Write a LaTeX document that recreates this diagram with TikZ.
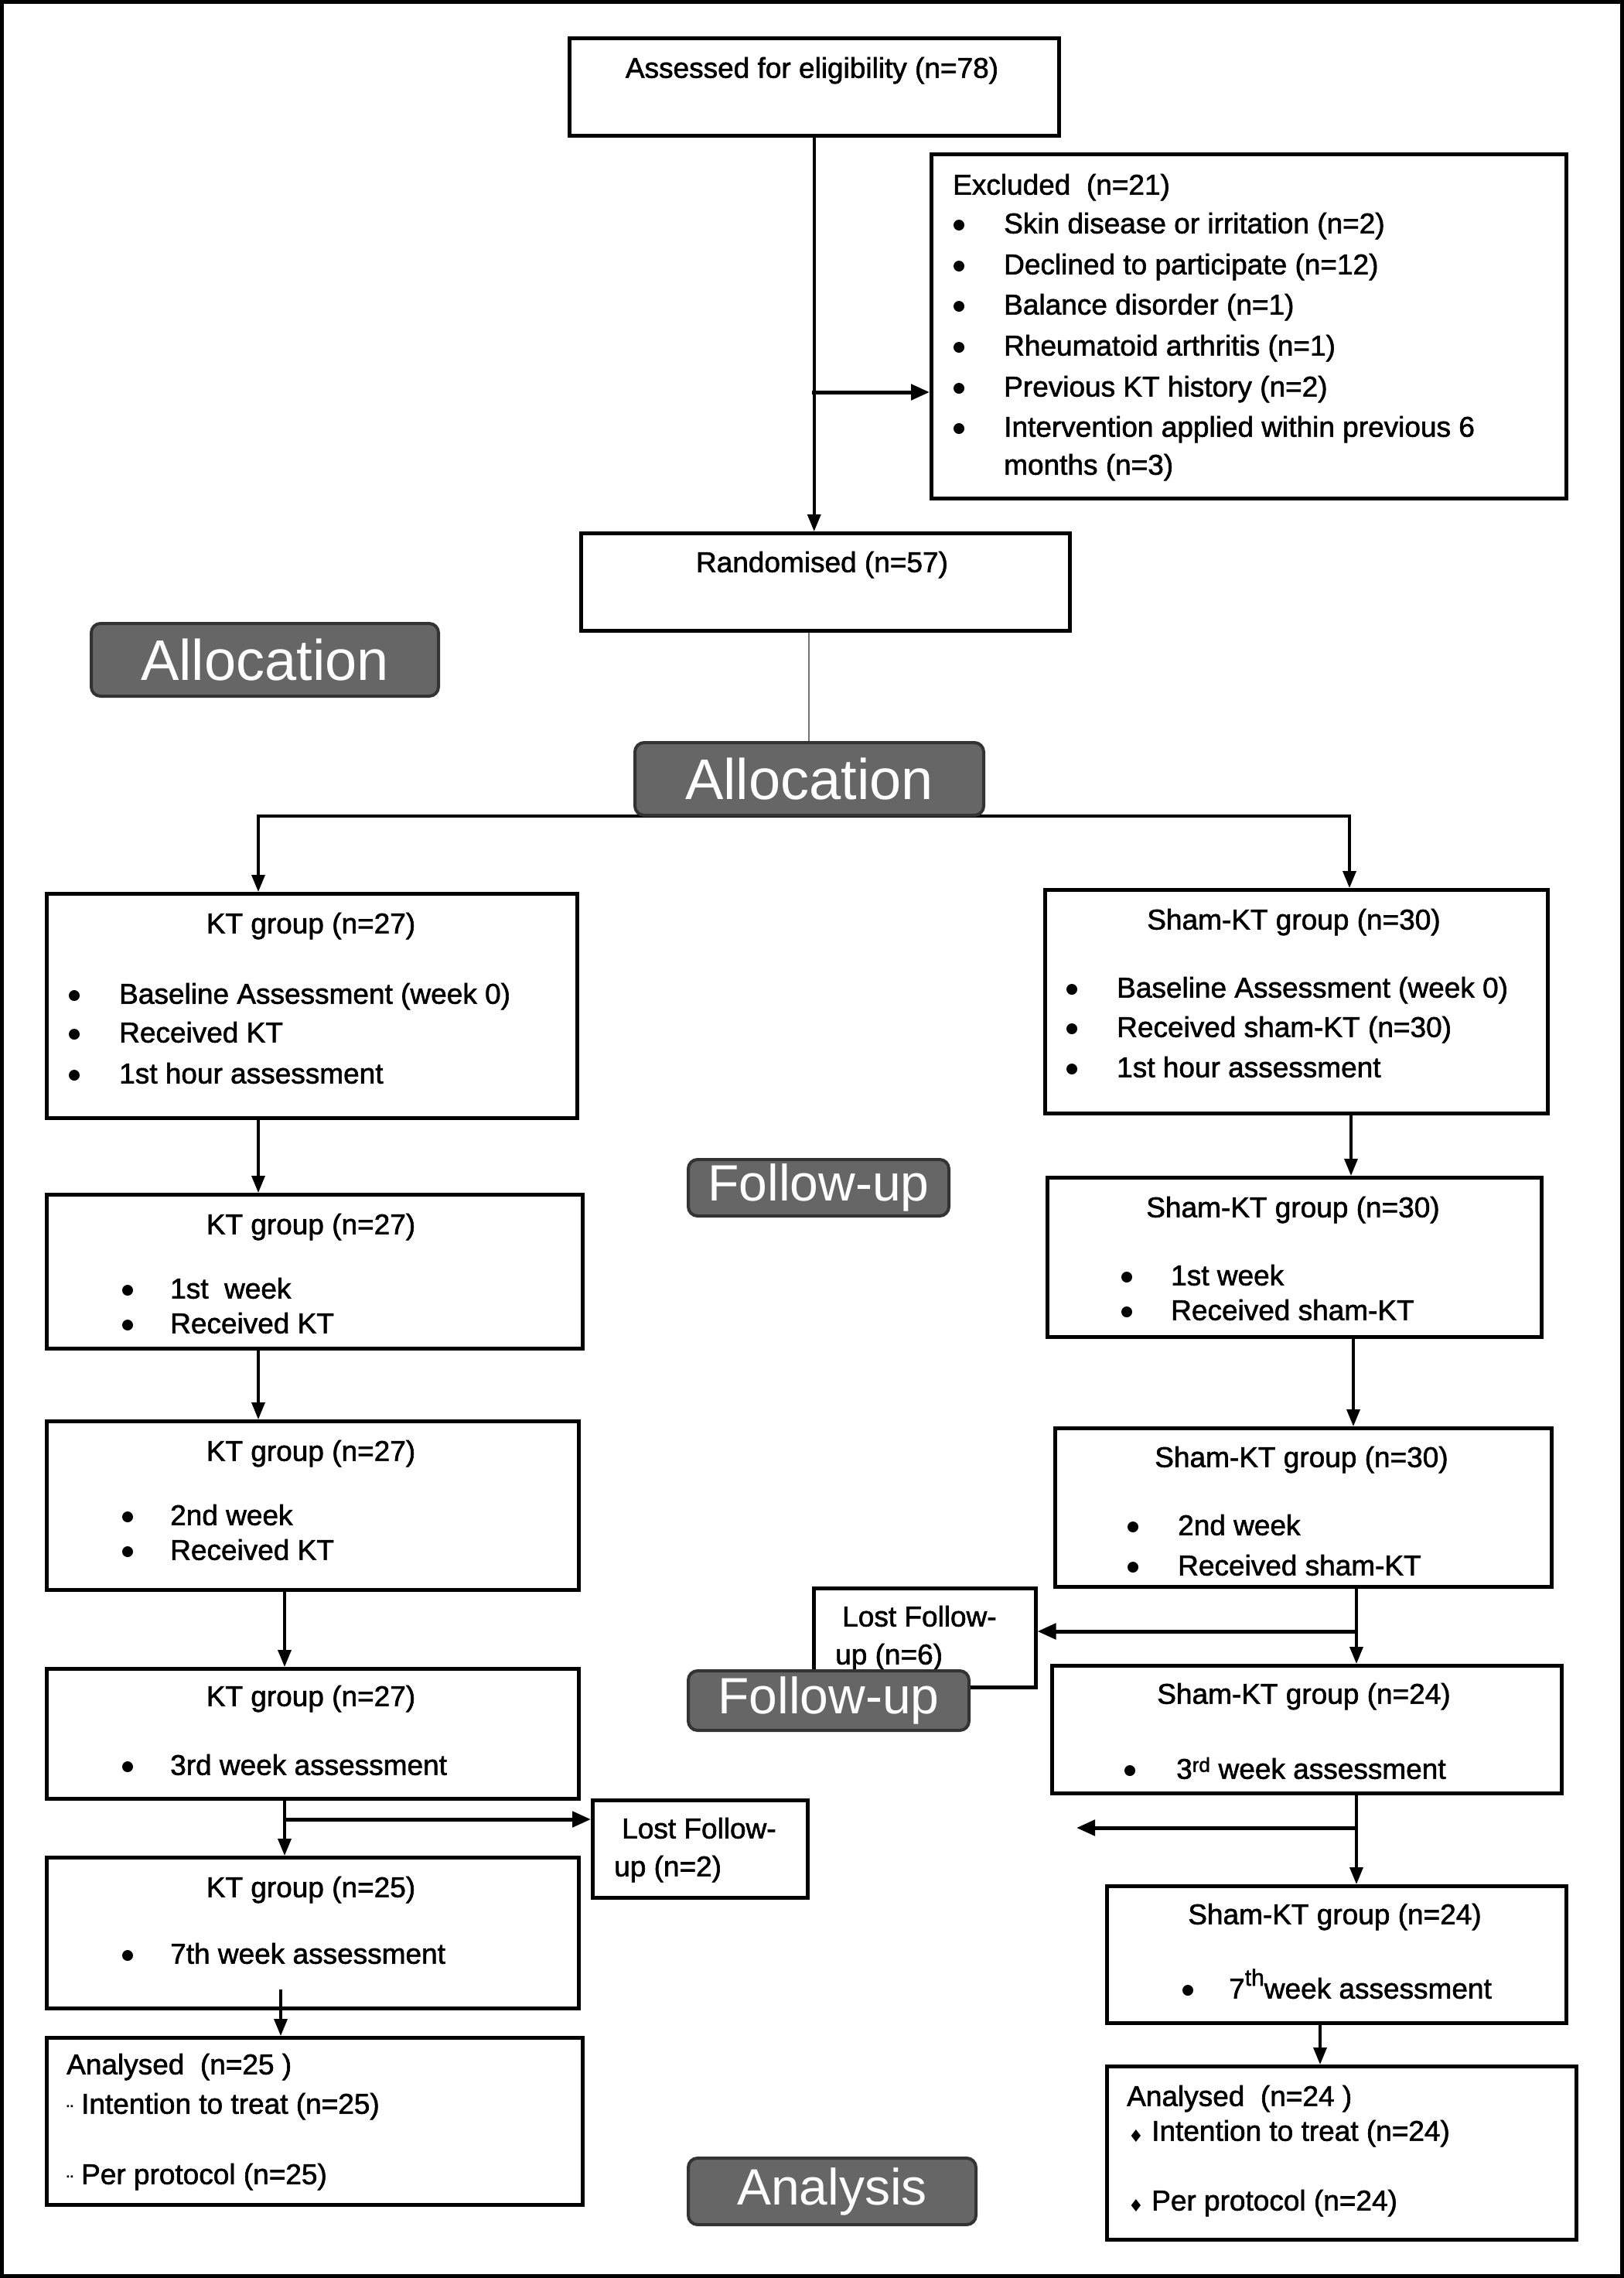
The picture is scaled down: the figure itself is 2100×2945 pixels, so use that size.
\documentclass[tikz,border=0pt]{standalone}
\usepackage{fontspec}
\setmainfont{Liberation Sans}
\newfontfamily\boxfont[FakeBold=1.6]{Liberation Sans}
\newfontfamily\symfont{DejaVu Sans}
\usetikzlibrary{arrows.meta,calc}
\newcommand\mybul[5]{%
  \node[bt] (#1b) at (#2,#4) {};
  \node[txt] (#1) at (#3,#4) {#5};}
\begin{document}
\begin{tikzpicture}[x=1pt,y=-1pt,
  box/.style={draw=black,line width=4.5pt,fill=white,inner sep=0pt,anchor=north west},
  lbl/.style={draw=black!80,line width=4pt,fill=black!60,rounded corners=12pt,text=white,inner sep=0pt,anchor=north west},
  txt/.style={inner sep=0pt,font=\boxfont\fontsize{37}{44}\selectfont,anchor=mid west,text=black,yshift=-10pt},
  ctxt/.style={txt,anchor=mid},
  bt/.style={circle,fill=black,draw=none,inner sep=0pt,minimum size=14pt,yshift=-2pt},
  arr/.style={line width=3.5pt,-{Triangle[length=22pt,width=17pt]}},
  tarr/.style={line width=5pt,-{Triangle[length=24pt,width=20pt]}}
]
\useasboundingbox (0,0) rectangle (2100,2945);
\draw[line width=5pt] (2.5,2.5) rectangle (2097.5,2942.5);

% boxes
\node[box,minimum width=633pt,minimum height=126pt] (assessed) at (734,47) {};
\node[box,minimum width=821pt,minimum height=445pt] (excl) at (1202,197) {};
\node[box,minimum width=632pt,minimum height=126pt] (rand) at (749,687) {};
\node[box,minimum width=686pt,minimum height=290pt] (kt1) at (58,1153) {};
\node[box,minimum width=650pt,minimum height=289pt] (sh1) at (1349,1148) {};
\node[box,minimum width=693pt,minimum height=199pt] (kt2) at (58,1542) {};
\node[box,minimum width=639pt,minimum height=206pt] (sh2) at (1352,1520) {};
\node[box,minimum width=688pt,minimum height=218pt] (kt3) at (58,1835) {};
\node[box,minimum width=642pt,minimum height=205pt] (sh3) at (1362,1844) {};
\node[box,minimum width=287pt,minimum height=128pt] (lost6) at (1050,2051) {};
\node[box,minimum width=659pt,minimum height=165pt] (sh4) at (1358,2151) {};
\node[box,minimum width=688pt,minimum height=168pt] (kt4) at (58,2155) {};
\node[box,minimum width=278pt,minimum height=126pt] (lost2) at (764,2325) {};
\node[box,minimum width=688pt,minimum height=195pt] (kt5) at (58,2399) {};
\node[box,minimum width=594pt,minimum height=177pt] (sh5) at (1429,2436) {};
\node[box,minimum width=693pt,minimum height=216pt] (ktan) at (58,2632) {};
\node[box,minimum width=607pt,minimum height=224pt] (shan) at (1429,2669) {};

% texts
\node[ctxt] (t-ass) at (1050,88) {Assessed for eligibility (n=78)};
\node[txt] (t-exc) at (1232,239) {Excluded~~(n=21)};
\mybul{e1}{1240}{1298}{289}{Skin disease or irritation (n=2)}
\mybul{e2}{1240}{1298}{342}{Declined to participate (n=12)}
\mybul{e3}{1240}{1298}{394}{Balance disorder (n=1)}
\mybul{e4}{1240}{1298}{447}{Rheumatoid arthritis (n=1)}
\mybul{e5}{1240}{1298}{500}{Previous KT history (n=2)}
\mybul{e6}{1240}{1298}{552}{Intervention applied within previous 6}
\node[txt] (e7) at (1298,601) {months (n=3)};
\node[ctxt] (t-rand) at (1063,727) {Randomised (n=57)};

\node[ctxt] (t-kt1) at (402,1194) {KT group (n=27)};
\mybul{k11}{96}{154}{1285}{Baseline Assessment (week 0)}
\mybul{k12}{96}{154}{1335}{Received KT}
\mybul{k13}{96}{154}{1388}{1st hour assessment}

\node[ctxt] (t-sh1) at (1673,1189) {Sham-KT group (n=30)};
\mybul{s11}{1386}{1444}{1277}{Baseline Assessment (week 0)}
\mybul{s12}{1386}{1444}{1328}{Received sham-KT (n=30)}
\mybul{s13}{1386}{1444}{1380}{1st hour assessment}

\node[ctxt] (t-kt2) at (402,1583) {KT group (n=27)};
\mybul{k21}{165}{220}{1666}{1st~~week}
\mybul{k22}{165}{220}{1711}{Received KT}

\node[ctxt] (t-sh2) at (1672,1561) {Sham-KT group (n=30)};
\mybul{s21}{1457}{1514}{1649}{1st week}
\mybul{s22}{1457}{1514}{1694}{Received sham-KT}

\node[ctxt] (t-kt3) at (402,1876) {KT group (n=27)};
\mybul{k31}{165}{220}{1959}{2nd week}
\mybul{k32}{165}{220}{2004}{Received KT}

\node[ctxt] (t-sh3) at (1683,1884) {Sham-KT group (n=30)};
\mybul{s31}{1465}{1523}{1972}{2nd week}
\mybul{s32}{1465}{1523}{2024}{Received sham-KT}

\node[txt] (l61) at (1089,2090) {Lost Follow-};
\node[txt] (l62) at (1080,2139) {up (n=6)};

\node[ctxt] (t-sh4) at (1686,2190) {Sham-KT group (n=24)};
\mybul{s41}{1461}{1521}{2287}{3\textsuperscript{rd} week assessment}

\node[ctxt] (t-kt4) at (402,2193) {KT group (n=27)};
\mybul{k41}{165}{220}{2282}{3rd week assessment}

\node[txt] (l21) at (804,2364) {Lost Follow-};
\node[txt] (l22) at (794,2413) {up (n=2)};

\node[ctxt] (t-kt5) at (402,2440) {KT group (n=25)};
\mybul{k51}{165}{220}{2526}{7th week assessment}

\node[ctxt] (t-sh5) at (1726,2475) {Sham-KT group (n=24)};
\mybul{s51}{1536}{1589}{2571}{7\raisebox{0.45em}{\fontsize{30}{30}\selectfont th}week assessment}

\node[txt] (ka1) at (86,2669) {Analysed~~(n=25 )};
\node[txt] (ka2) at (86,2720) {\raisebox{-0.18em}{\fontsize{26}{26}\selectfont ¨} Intention to treat (n=25)};
\node[txt] (ka3) at (86,2811) {\raisebox{-0.18em}{\fontsize{26}{26}\selectfont ¨} Per protocol (n=25)};

\node[txt] (sa1) at (1457,2710) {Analysed~~(n=24 )};
\node[inner sep=0pt,anchor=mid,font=\symfont\fontsize{22}{24}\selectfont,yshift=-10pt] (sa2b) at (1469,2757) {♦};
\node[txt] (sa2) at (1489,2755) {Intention to treat (n=24)};
\node[inner sep=0pt,anchor=mid,font=\symfont\fontsize{22}{24}\selectfont,yshift=-10pt] (sa3b) at (1469,2847) {♦};
\node[txt] (sa3) at (1489,2845) {Per protocol (n=24)};

% column coordinates
\coordinate (cA) at (334,0);
\coordinate (cB) at (368,0);
\coordinate (cC) at (363,0);
\coordinate (sA) at (1745,0);
\coordinate (sB) at (1747,0);
\coordinate (sC) at (1750,0);
\coordinate (sD) at (1754,0);
\coordinate (sE) at (1707,0);
\coordinate (exbr) at (1050,507);
\coordinate (kbr) at (368,2352);
\coordinate (sbr1) at (1754,2109);
\coordinate (sbr2) at (1754,2363);
\coordinate (sfree) at (1392,2363);
\coordinate (gl) at (1046,0);

% connectors
\draw[arr] (assessed.south) -- (assessed.south |- rand.north);
\draw[tarr] (exbr) -- (exbr -| excl.west);
\coordinate (split) at (1044,1055);
\draw[arr] (split) -| (cA |- kt1.north);
\draw[arr] (split) -| (sA |- sh1.north);
\draw[arr] (cA |- kt1.south) -- (cA |- kt2.north);
\draw[arr] (cA |- kt2.south) -- (cA |- kt3.north);
\draw[arr] (cB |- kt3.south) -- (cB |- kt4.north);
\draw[arr] (cB |- kt4.south) -- (cB |- kt5.north);
\draw[tarr] (kbr) -- (kbr -| lost2.west);
\draw[arr] ($(cC |- kt5.south)+(0,-27)$) -- (cC |- ktan.north);
\draw[arr] (sB |- sh1.south) -- (sB |- sh2.north);
\draw[arr] (sC |- sh2.south) -- (sC |- sh3.north);
\draw[arr] (sD |- sh3.south) -- (sD |- sh4.north);
\draw[tarr] (sbr1) -- (sbr1 -| lost6.east);
\draw[arr] (sD |- sh4.south) -- (sD |- sh5.north);
\draw[tarr] (sbr2) -- (sfree);
\draw[arr] (sE |- sh5.south) -- (sE |- shan.north);

% stage labels
\node[lbl,minimum width=449pt,minimum height=94pt,font=\fontsize{74}{80}\selectfont] (alloc1) at (116,804) {Allocation};
\node[lbl,minimum width=451pt,minimum height=94pt,font=\fontsize{74}{80}\selectfont] (alloc2) at (819,958) {Allocation};
\draw[line width=2pt,black!55] (gl |- rand.south) -- (gl |- alloc2.north);
\node[lbl,minimum width=337pt,minimum height=73pt,font=\fontsize{66}{72}\selectfont] (fu1) at (888,1497) {Follow-up};
\node[lbl,minimum width=363pt,minimum height=77pt,font=\fontsize{66}{72}\selectfont] (fu2) at (888,2158) {Follow-up};
\node[lbl,minimum width=372pt,minimum height=86pt,font=\fontsize{66}{72}\selectfont] (anal) at (888,2788) {Analysis};
\end{tikzpicture}
\end{document}
